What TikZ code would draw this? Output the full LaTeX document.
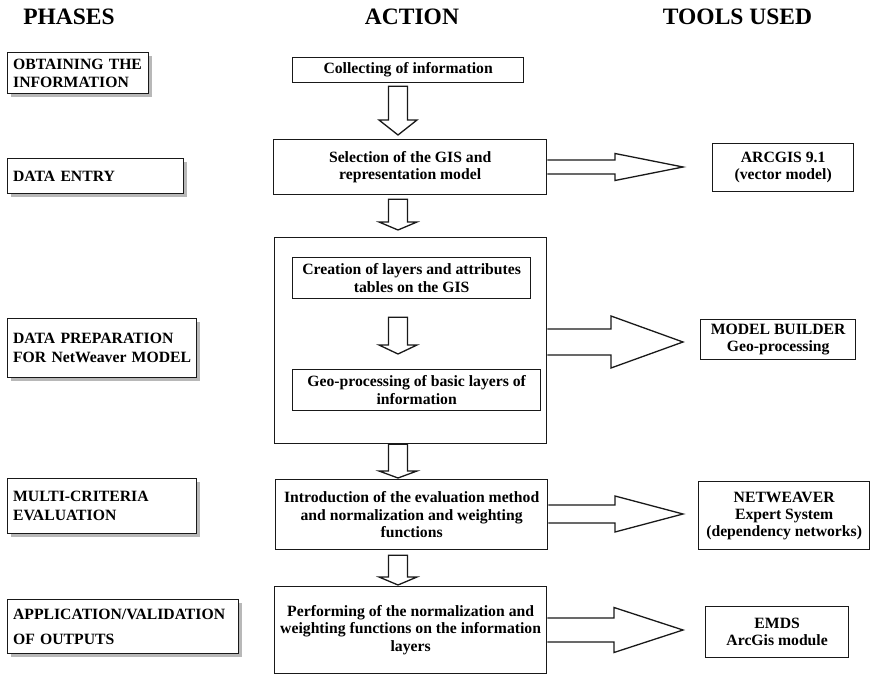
\documentclass[tikz,border=0pt]{standalone}
\usepackage{fontspec}
\setmainfont{Liberation Serif}
\usetikzlibrary{calc,shadows}

% downward block arrow between two boxes: from, to, top gap, head length, tip gap
\newcommand{\dnarr}[5]{%
  \draw[blk] let \p1=(#1.south), \p2=(#2.north) in
    (388.5pt,\y1-#3) -- (407.5pt,\y1-#3) -- (407.5pt,\y2+#5+#4) -- (417pt,\y2+#5+#4)
    -- (398pt,\y2+#5) -- (379pt,\y2+#5+#4) -- (388.5pt,\y2+#5+#4) -- cycle;}

% rightward block arrow leaving a box: from, tip, shaft half width, head half width, head base x
\newcommand{\rtarr}[5]{%
  \draw[blk] let \p1=(#1.east), \p2=(#2) in
    (\x1,\y2+#3) -- (#5,\y2+#3) -- (#5,\y2+#4) -- (\x2,\y2)
    -- (#5,\y2-#4) -- (#5,\y2-#3) -- (\x1,\y2-#3);}

\begin{document}
\begin{tikzpicture}[x=1pt,y=-1pt,
  font=\bfseries\fontsize{15.7}{17.5}\selectfont,
  head/.style={font=\bfseries\fontsize{23.5}{26}\selectfont, inner sep=0pt, text=black},
  box/.style={draw=black!90, line width=1.3pt, inner sep=0pt, align=center, anchor=north west, text=black},
  phase/.style={box, fill=white, align=left, inner xsep=5.5pt,
    drop shadow={shadow xshift=3.5pt, shadow yshift=-3.5pt, fill=black!28, opacity=1},
    font=\bfseries\fontsize{15.7}{18.5}\selectfont},
  act/.style={box, fill=white},
  tool/.style={box, fill=white, font=\bfseries\fontsize{15.7}{17}\selectfont},
  blk/.style={draw=black!90, line width=1.3pt, fill=white, line join=miter},
]
\useasboundingbox (0,0) rectangle (871,674);

% column headings
\node[head] (hph) at (69,17) {PHASES};
\node[head] (hac) at (412,17) {ACTION};
\node[head] (htl) at (737.5,17) {TOOLS USED};

% phases
\node[phase, text width=130pt, minimum height=41pt] (p1) at (7,52) {OBTAINING THE\\INFORMATION};
\node[phase, text width=165pt, minimum height=35pt] (p2) at (7,158) {DATA ENTRY};
\node[phase, text width=178pt, minimum height=59pt] (p3) at (7,318) {DATA PREPARATION\\FOR NetWeaver MODEL};
\node[phase, text width=178pt, minimum height=55pt] (p4) at (7,478) {MULTI-CRITERIA\\EVALUATION};
\node[phase, text width=220pt, minimum height=54pt,
      font=\bfseries\fontsize{15.7}{25}\selectfont] (p5) at (7,599) {APPLICATION/VALIDATION\\OF OUTPUTS};

% actions
\node[act, minimum width=231pt, minimum height=25pt] (a1) at (292,57) {Collecting of information};
\node[act, minimum width=273pt, minimum height=55pt] (a2) at (273,139) {Selection of the GIS and\\representation model};
\node[act, minimum width=272pt, minimum height=206pt] (a3) at (274,237) {};
\node[act, minimum width=238pt, minimum height=41pt] (a3a) at (292,257) {Creation of layers and attributes\\tables on the GIS};
\node[act, minimum width=248pt, minimum height=41pt] (a3b) at (292,369) {Geo-processing of basic layers of\\information};
\node[act, minimum width=272pt, minimum height=70pt] (a4) at (275,479) {Introduction of the evaluation method\\and normalization and weighting\\functions};
\node[act, minimum width=272pt, minimum height=87pt] (a5) at (274,586) {Performing of the normalization and\\weighting functions on the information\\layers};

% tools
\node[tool, minimum width=141pt, minimum height=48pt] (t1) at (712,143) {ARCGIS 9.1\\(vector model)};
\node[tool, minimum width=155pt, minimum height=40pt] (t2) at (700,319) {MODEL BUILDER\\Geo-processing};
\node[tool, minimum width=171pt, minimum height=68pt] (t3) at (698,481) {NETWEAVER\\Expert System\\(dependency networks)};
\node[tool, minimum width=143pt, minimum height=51pt] (t4) at (705,606) {EMDS\\ArcGis module};

% flow between actions
\dnarr{a1}{a2}{3pt}{15pt}{4pt}
\dnarr{a2}{a3}{4pt}{8pt}{7pt}
\dnarr{a3a}{a3b}{18pt}{9pt}{15pt}
\dnarr{a3}{a4}{0pt}{7pt}{1pt}
\dnarr{a4}{a5}{5pt}{8pt}{1pt}

% arrows towards the tools
\coordinate (k1) at (683,167);
\coordinate (k2) at (683,342);
\coordinate (k3) at (683,514);
\coordinate (k4) at (683,630);
\rtarr{a2}{k1}{7pt}{13.5pt}{615pt}
\rtarr{a3}{k2}{13pt}{26pt}{611pt}
\rtarr{a4}{k3}{9pt}{18pt}{615pt}
\rtarr{a5}{k4}{12pt}{22.5pt}{614pt}
\end{tikzpicture}
\end{document}
